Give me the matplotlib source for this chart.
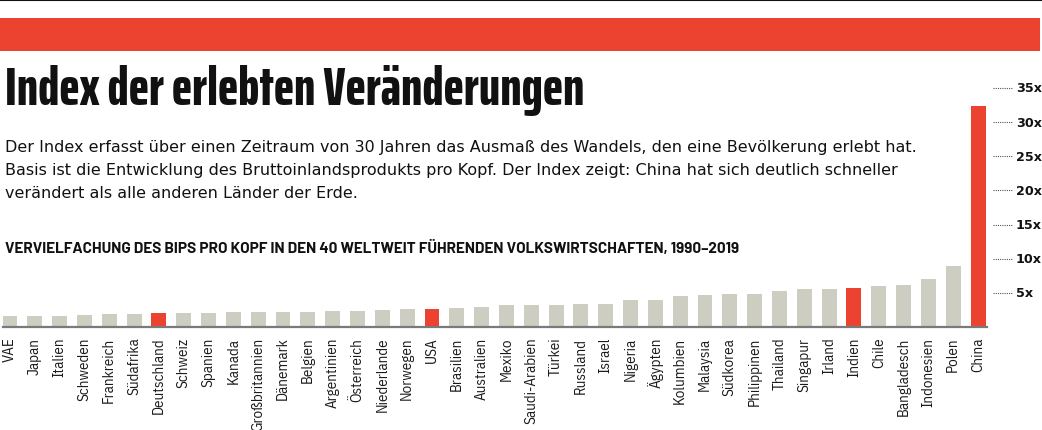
import numpy as np
import matplotlib
matplotlib.use("Agg")
import matplotlib.pyplot as plt

# data
countries = ["VAE", "Japan", "Italien", "Schweden", "Frankreich", "Südafrika",
             "Deutschland", "Schweiz", "Spanien", "Kanada", "Großbritannien",
             "Dänemark", "Belgien", "Argentinien", "Österreich", "Niederlande",
             "Norwegen", "USA", "Brasilien", "Australien", "Mexiko",
             "Saudi-Arabien", "Türkei", "Russland", "Israel", "Nigeria",
             "Ägypten", "Kolumbien", "Malaysia", "Südkorea", "Philippinen",
             "Thailand", "Singapur", "Irland", "Indien", "Chile", "Bangladesch",
             "Indonesien", "Polen", "China"]
values = [1.55, 1.55, 1.55, 1.7, 1.9, 1.9, 2.1, 2.1, 2.1, 2.25, 2.25, 2.25,
          2.25, 2.35, 2.35, 2.5, 2.7, 2.7, 2.8, 3.0, 3.2, 3.2, 3.2, 3.3, 3.4,
          3.9, 3.9, 4.5, 4.7, 4.8, 4.9, 5.2, 5.5, 5.6, 5.7, 6.0, 6.1, 7.1,
          9.0, 32.3]
highlight = ["Deutschland", "USA", "Indien", "China"]
ytick_vals = [5, 10, 15, 20, 25, 30, 35]
ytick_labels = ["5x", "10x", "15x", "20x", "25x", "30x", "35x"]

RED = "#ec4330"
GREY = "#cecdc1"
INK = "#111111"
TITLE_FONT = ["Saira ExtraCondensed", "DejaVu Sans"]
LABEL_FONT = ["IBM Plex Sans Condensed", "Sofia Sans Semi Condensed", "DejaVu Sans"]
HEAD_FONT = ["Barlow", "Barlow Semi Condensed", "DejaVu Sans"]

fig = plt.figure(figsize=(10.42, 4.31), dpi=100)
W, H = 1042, 431
renderer = fig.canvas.get_renderer()


def fit_width(txt, target_px):
    # scale the font size so the text spans the width seen in the original
    w = txt.get_window_extent(renderer).width
    txt.set_fontsize(txt.get_fontsize() * target_px / w)


# top rule and red band
fig.add_artist(plt.Line2D([0, 1], [1 - 1 / H, 1 - 1 / H], color=INK, lw=1.5))
fig.add_artist(plt.Rectangle((0, 1 - 52 / H), 1040 / W, 33 / H, color=RED, lw=0))

# bars
ax = fig.add_axes([3 / W, 1 - 328 / H, 984 / W, 239 / H])
x = np.arange(len(countries))
colors = [RED if c in highlight else GREY for c in countries]
ax.bar(x, values, width=0.6, color=colors)
ax.set_xlim(-0.28, 39.36)
ax.set_ylim(0, 35)
ax.patch.set_visible(False)
for s in ["top", "left", "right"]:
    ax.spines[s].set_visible(False)
ax.spines["bottom"].set_color("#7a7a7a")
ax.spines["bottom"].set_linewidth(1.6)
ax.set_yticks([])
ax.set_xticks(x)
ax.set_xticklabels(countries, rotation=90, fontsize=10.8, color="#1a1a1a",
                   family=LABEL_FONT)
ax.tick_params(axis="x", length=0, pad=7)

# right hand scale with dotted leaders
for v, lab in zip(ytick_vals, ytick_labels):
    ax.plot([1.006, 1.026], [v, v], transform=ax.get_yaxis_transform(),
            color="#555555", lw=0.8, ls=(0, (1, 1)), clip_on=False)
    ax.text(1.0295, v, lab, transform=ax.get_yaxis_transform(), ha="left",
            va="center", fontsize=9.2, fontweight="bold", color=INK)

# titles
title = fig.text(5 / W, 1 - 105 / H, "Index der erlebten Veränderungen", fontsize=38,
                 fontweight=800, family=TITLE_FONT, color=INK, va="baseline")
fit_width(title, 580)
sub = ["Der Index erfasst über einen Zeitraum von 30 Jahren das Ausmaß des Wandels, den eine Bevölkerung erlebt hat.",
       "Basis ist die Entwicklung des Bruttoinlandsprodukts pro Kopf. Der Index zeigt: China hat sich deutlich schneller",
       "verändert als alle anderen Länder der Erde."]
for i, line in enumerate(sub):
    fig.text(5 / W, 1 - (152 + 23 * i) / H, line, fontsize=11.5, color=INK,
             va="baseline")
head = fig.text(5 / W, 1 - 253 / H,
                "VERVIELFACHUNG DES BIPS PRO KOPF IN DEN 40 WELTWEIT FÜHRENDEN VOLKSWIRTSCHAFTEN, 1990–2019",
                fontsize=10.2, fontweight="bold", family=HEAD_FONT, color=INK, va="baseline")
fit_width(head, 735)

fig.savefig("out.png", dpi=100)
